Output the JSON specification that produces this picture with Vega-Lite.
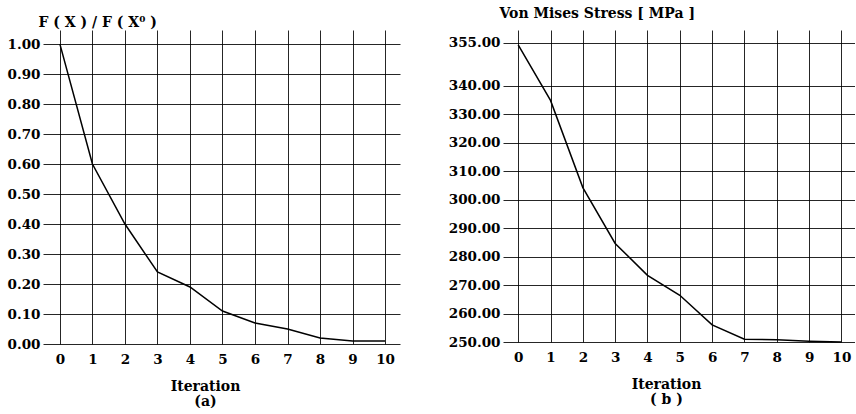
{
  "$schema": "https://vega.github.io/schema/vega-lite/v6.json",
  "background": "white",
  "padding": {"left": 7, "top": 6, "right": 0, "bottom": 0},
  "autosize": {"type": "pad"},
  "spacing": 48,
  "config": {
    "view": {"stroke": null},
    "font": "DejaVu Serif",
    "axis": {
      "domain": false,
      "ticks": false,
      "grid": true,
      "gridColor": "#000000",
      "gridOpacity": 0.85,
      "gridWidth": 1,
      "labelFont": "DejaVu Serif",
      "labelFontWeight": "bold",
      "labelFontSize": 13.5,
      "labelColor": "black",
      "labelFlush": false,
      "labelOverlap": false,
      "titleFont": "DejaVu Serif",
      "titleFontWeight": "bold",
      "titleFontSize": 14,
      "titleColor": "black"
    },
    "axisX": {"labelPadding": 8},
    "axisY": {"labelPadding": 3}
  },
  "hconcat": [
    {
      "width": 357,
      "height": 314,
      "data": {"values": [
        {"iteration": 0, "ratio": 1.00},
        {"iteration": 1, "ratio": 0.60},
        {"iteration": 2, "ratio": 0.40},
        {"iteration": 3, "ratio": 0.24},
        {"iteration": 4, "ratio": 0.19},
        {"iteration": 5, "ratio": 0.11},
        {"iteration": 6, "ratio": 0.07},
        {"iteration": 7, "ratio": 0.05},
        {"iteration": 8, "ratio": 0.02},
        {"iteration": 9, "ratio": 0.01},
        {"iteration": 10, "ratio": 0.01}
      ]},
      "mark": {"type": "line", "color": "black", "strokeWidth": 1.5},
      "encoding": {
        "x": {
          "field": "iteration", "type": "quantitative",
          "scale": {"domain": [-0.52, 10.46], "nice": false, "zero": false},
          "axis": {
            "values": [0, 1, 2, 3, 4, 5, 6, 7, 8, 9, 10],
            "format": "d",
            "title": ["Iteration", "(a)"],
            "titleX": 162, "titleY": 46,
            "titleAlign": "center", "titleBaseline": "alphabetic",
            "titleLineHeight": 15
          }
        },
        "y": {
          "field": "ratio", "type": "quantitative",
          "scale": {"domain": [0, 1.047], "nice": false},
          "axis": {
            "values": [0, 0.1, 0.2, 0.3, 0.4, 0.5, 0.6, 0.7, 0.8, 0.9, 1.0],
            "format": ".2f",
            "title": "F ( X ) / F ( X⁰ )",
            "titleAngle": 0, "titleX": -5, "titleY": -4,
            "titleAlign": "left", "titleBaseline": "alphabetic"
          }
        }
      }
    },
    {
      "width": 352,
      "height": 312,
      "data": {"values": [
        {"iteration": 0, "stress": 354.3},
        {"iteration": 1, "stress": 334.8},
        {"iteration": 2, "stress": 304.2},
        {"iteration": 3, "stress": 284.6},
        {"iteration": 4, "stress": 273.4},
        {"iteration": 5, "stress": 266.4},
        {"iteration": 6, "stress": 256.0},
        {"iteration": 7, "stress": 251.0},
        {"iteration": 8, "stress": 250.8},
        {"iteration": 9, "stress": 250.3},
        {"iteration": 10, "stress": 250.0}
      ]},
      "mark": {"type": "line", "color": "black", "strokeWidth": 1.5},
      "encoding": {
        "x": {
          "field": "iteration", "type": "quantitative",
          "scale": {"domain": [-0.47, 10.42], "nice": false, "zero": false},
          "axis": {
            "values": [0, 1, 2, 3, 4, 5, 6, 7, 8, 9, 10],
            "format": "d",
            "title": ["Iteration", "( b )"],
            "titleX": 163, "titleY": 46,
            "titleAlign": "center", "titleBaseline": "alphabetic",
            "titleLineHeight": 15
          }
        },
        "y": {
          "field": "stress", "type": "quantitative",
          "scale": {"domain": [250, 359.5], "nice": false, "zero": false},
          "axis": {
            "values": [250, 260, 270, 280, 290, 300, 310, 320, 330, 340, 355],
            "format": ".2f",
            "title": "Von Mises Stress [ MPa ]",
            "titleAngle": 0, "titleX": -4, "titleY": -13,
            "titleAlign": "left", "titleBaseline": "alphabetic"
          }
        }
      }
    }
  ]
}
